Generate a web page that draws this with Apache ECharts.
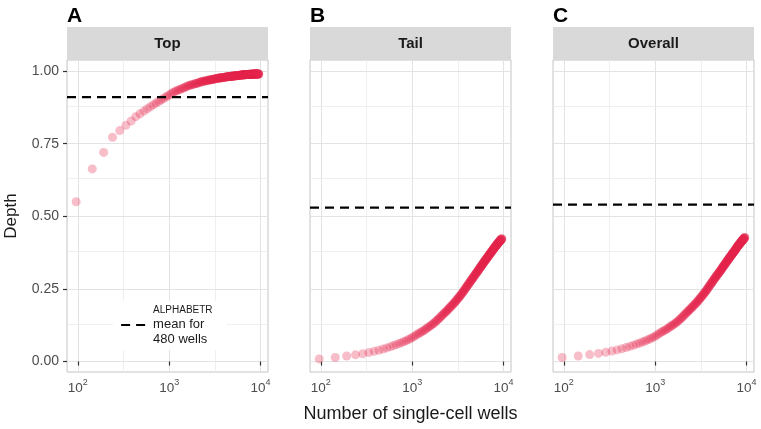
<!DOCTYPE html>
<html><head><meta charset="utf-8">
<script src="https://cdn.jsdelivr.net/npm/echarts@6/dist/echarts.min.js"></script>
<style>html,body{margin:0;padding:0;background:#fff}#c{width:761px;height:429px}</style>
</head><body><div id="c"></div>
<script>
// ---------- data ----------
const wells = [
  96,144,192,240,288,336,384,432,480,528,
  576,624,672,720,768,816,864,912,960,1008,
  1056,1104,1152,1200,1248,1296,1344,1392,1440,1488,
  1536,1584,1632,1680,1728,1776,1824,1872,1920,1968,
  2016,2064,2112,2160,2208,2256,2304,2352,2400,2448,
  2496,2544,2592,2640,2688,2736,2784,2832,2880,2928,
  2976,3024,3072,3120,3168,3216,3264,3312,3360,3408,
  3456,3504,3552,3600,3648,3696,3744,3792,3840,3888,
  3936,3984,4032,4080,4128,4176,4224,4272,4320,4368,
  4416,4464,4512,4560,4608,4656,4704,4752,4800,4848,
  4896,4944,4992,5040,5088,5136,5184,5232,5280,5328,
  5376,5424,5472,5520,5568,5616,5664,5712,5760,5808,
  5856,5904,5952,6000,6048,6096,6144,6192,6240,6288,
  6336,6384,6432,6480,6528,6576,6624,6672,6720,6768,
  6816,6864,6912,6960,7008,7056,7104,7152,7200,7248,
  7296,7344,7392,7440,7488,7536,7584,7632,7680,7728,
  7776,7824,7872,7920,7968,8016,8064,8112,8160,8208,
  8256,8304,8352,8400,8448,8496,8544,8592,8640,8688,
  8736,8784,8832,8880,8928,8976,9024,9072,9120,9168,
  9216,9264,9312,9360,9408,9456,9504,9552,9600
];
const depthTop = [
  .550,.663,.720,.772,.795,.813,.828,.843,.853,.862,
  .870,.877,.884,.890,.895,.900,.905,.910,.914,.918,
  .922,.926,.929,.932,.934,.936,.938,.940,.942,.944,
  .946,.948,.950,.951,.952,.953,.954,.955,.956,.957,
  .958,.959,.960,.961,.962,.963,.964,.965,.965,.966,
  .966,.967,.967,.968,.968,.969,.969,.970,.970,.971,
  .971,.972,.972,.973,.973,.973,.974,.974,.975,.975,
  .975,.976,.976,.976,.977,.977,.977,.977,.978,.978,
  .978,.978,.979,.979,.979,.979,.980,.980,.980,.980,
  .980,.981,.981,.981,.981,.981,.982,.982,.982,.982,
  .982,.982,.983,.983,.983,.983,.983,.983,.984,.984,
  .984,.984,.984,.984,.984,.985,.985,.985,.985,.985,
  .985,.985,.985,.986,.986,.986,.986,.986,.986,.986,
  .986,.986,.987,.987,.987,.987,.987,.987,.987,.987,
  .987,.987,.988,.988,.988,.988,.988,.988,.988,.988,
  .988,.988,.988,.988,.988,.989,.989,.989,.989,.989,
  .989,.989,.989,.989,.989,.989,.989,.989,.989,.989,
  .989,.990,.990,.990,.990,.990,.990,.990,.990,.990,
  .990,.990,.990,.990,.990,.990,.990,.990,.990,.990,
  .990,.990,.990,.990,.990,.990,.990,.990,.990
];
const depthTail = [
  .009,.014,.019,.023,.027,.031,.035,.039,.043,.047,
  .051,.055,.058,.062,.065,.069,.072,.076,.079,.083,
  .087,.091,.095,.098,.101,.104,.107,.110,.114,.117,
  .120,.123,.126,.129,.132,.135,.139,.142,.145,.148,
  .151,.155,.158,.161,.164,.167,.170,.172,.175,.178,
  .181,.183,.186,.189,.191,.194,.196,.199,.201,.204,
  .207,.209,.212,.214,.217,.219,.222,.224,.227,.229,
  .232,.234,.237,.239,.242,.244,.247,.249,.252,.254,
  .257,.259,.261,.264,.266,.268,.270,.272,.275,.277,
  .279,.281,.284,.285,.287,.289,.291,.293,.295,.297,
  .299,.301,.303,.305,.306,.308,.310,.312,.313,.315,
  .317,.319,.321,.323,.324,.326,.327,.329,.330,.332,
  .334,.335,.337,.339,.340,.342,.343,.345,.346,.348,
  .349,.350,.352,.353,.355,.356,.357,.359,.360,.361,
  .363,.364,.365,.367,.368,.369,.370,.372,.373,.374,
  .375,.377,.378,.379,.380,.381,.383,.384,.385,.386,
  .387,.388,.390,.391,.392,.393,.394,.395,.396,.397,
  .398,.399,.400,.401,.402,.403,.404,.405,.406,.407,
  .408,.409,.410,.411,.412,.413,.413,.414,.415,.416,
  .417,.418,.418,.419,.420,.421,.422,.422,.423
];
const depthOverall = [
  .014,.019,.024,.028,.032,.036,.040,.044,.048,.052,
  .056,.060,.063,.067,.070,.074,.077,.081,.084,.088,
  .092,.096,.100,.103,.106,.109,.112,.115,.119,.122,
  .124,.127,.130,.133,.136,.139,.143,.146,.149,.152,
  .155,.159,.162,.165,.168,.171,.174,.176,.179,.182,
  .185,.187,.190,.193,.195,.198,.200,.203,.205,.208,
  .211,.213,.216,.218,.221,.223,.226,.228,.231,.233,
  .236,.238,.241,.243,.246,.248,.251,.253,.256,.258,
  .261,.263,.265,.268,.270,.272,.274,.276,.279,.281,
  .283,.285,.288,.289,.291,.293,.295,.297,.299,.301,
  .302,.304,.306,.308,.309,.311,.313,.315,.316,.318,
  .320,.322,.324,.326,.327,.329,.330,.332,.333,.335,
  .337,.338,.340,.342,.343,.345,.346,.348,.349,.351,
  .352,.353,.355,.356,.358,.359,.360,.362,.363,.364,
  .366,.367,.368,.370,.371,.372,.373,.375,.376,.377,
  .378,.380,.381,.382,.383,.384,.386,.387,.388,.389,
  .391,.392,.394,.395,.396,.397,.398,.399,.400,.401,
  .402,.403,.404,.405,.406,.407,.408,.409,.410,.411,
  .412,.413,.414,.415,.416,.417,.417,.418,.419,.420,
  .421,.422,.422,.423,.424,.425,.426,.426,.427
];
const panelNames = ['Top', 'Tail', 'Overall'];
const panelLetters = ['A', 'B', 'C'];
const panelDepths = [depthTop, depthTail, depthOverall];
const alphabetrMean = [0.910, 0.530, 0.540];
const xMajor = [100, 1000, 10000];
const xMinor = [316.23, 3162.3];
const yMajor = [0, 0.25, 0.5, 0.75, 1];
const yMinor = [0.125, 0.375, 0.625, 0.875];
const legendName = 'ALPHABETR mean for 480 wells';

// ---------- layout ----------
const X_MIN = 76.2, X_MAX = 12080, Y_MIN = -0.036, Y_MAX = 1.038;
const gridLefts = [67, 310, 553];
const GW = 201, GTOP = 60, GH = 312;
const FONT = "'Liberation Sans', Arial, sans-serif";
const NARROW = "'Liberation Sans Narrow', 'Liberation Sans', Arial, sans-serif";

const chart = echarts.init(document.getElementById('c'), null, {renderer: 'canvas'});

const grids = [], xAxes = [], yAxes = [], series = [], graphics = [];
const majorStyle = {color: '#E3E3E3', width: 1, type: 'solid'};
const minorStyle = {color: '#EBEBEB', width: 0.8, type: 'solid'};

panelNames.forEach((name, i) => {
  grids.push({left: gridLefts[i], top: GTOP, width: GW, height: GH,
    show: true, borderColor: '#C4C4C4', borderWidth: 1, backgroundColor: '#fff'});
  xAxes.push({
    type: 'log', logBase: 10, gridIndex: i, min: X_MIN, max: X_MAX,
    axisLine: {show: false},
    splitLine: {show: false}, minorSplitLine: {show: false},
    axisTick: {show: true, length: 4, lineStyle: {color: '#333', width: 1.2}, customValues: xMajor},
    axisLabel: {
      customValues: xMajor, margin: 6,
      formatter: v => '{b|10}{s|' + Math.round(Math.log10(v)) + '}',
      rich: {
        b: {fontSize: 13.5, color: '#4D4D4D', fontFamily: FONT, lineHeight: 17, verticalAlign: 'bottom'},
        s: {fontSize: 9, color: '#4D4D4D', fontFamily: FONT, lineHeight: 10, verticalAlign: 'top'}
      }
    },
    name: i === 1 ? 'Number of single-cell wells' : '',
    nameLocation: 'middle', nameGap: 33,
    nameTextStyle: {fontSize: 18, color: '#1A1A1A', fontFamily: FONT}
  });
  yAxes.push({
    type: 'value', gridIndex: i, min: Y_MIN, max: Y_MAX,
    axisLine: {show: false},
    splitLine: {show: false},
    axisTick: {show: i === 0, length: 4, lineStyle: {color: '#333', width: 1.2}, customValues: yMajor},
    axisLabel: {show: i === 0, customValues: yMajor, margin: 8, fontSize: 14, color: '#4D4D4D',
      fontFamily: FONT, formatter: v => v.toFixed(2)},
    name: i === 0 ? 'Depth' : '', nameLocation: 'middle', nameGap: 47,
    nameTextStyle: {fontSize: 17, color: '#1A1A1A', fontFamily: FONT}
  });
  const gl = [];
  xMajor.forEach(v => gl.push({xAxis: v, lineStyle: majorStyle}));
  xMinor.forEach(v => gl.push({xAxis: v, lineStyle: minorStyle}));
  yMajor.forEach(v => gl.push({yAxis: v, lineStyle: majorStyle}));
  yMinor.forEach(v => gl.push({yAxis: v, lineStyle: minorStyle}));
  series.push({
    type: 'scatter', xAxisIndex: i, yAxisIndex: i, data: [], silent: true, z: 0,
    markLine: {silent: true, symbol: ['none', 'none'], z: 0, animation: false,
      label: {show: false}, emphasis: {disabled: true}, data: gl}
  });
  series.push({
    type: 'scatter', name: name, xAxisIndex: i, yAxisIndex: i, z: 3,
    symbolSize: 9,
    itemStyle: {color: '#E3264C', opacity: 0.3, borderWidth: 0},
    emphasis: {disabled: true},
    data: wells.map((w, j) => [w, panelDepths[i][j]])
  });
  series.push({
    type: 'line', name: i === 0 ? legendName : 'mean ' + name, xAxisIndex: i, yAxisIndex: i, z: 4,
    symbol: 'none', silent: true,
    itemStyle: {color: '#000'},
    lineStyle: {color: '#000', width: 2.2, type: [9, 6]},
    data: [[X_MIN, alphabetrMean[i]], [X_MAX, alphabetrMean[i]]]
  });
  graphics.push({type: 'rect', left: gridLefts[i], top: 27, z: 1,
    shape: {width: GW, height: 33}, style: {fill: '#D9D9D9'}});
  graphics.push({type: 'text', x: gridLefts[i] + GW / 2, y: 44, z: 2,
    style: {text: name, fill: '#1A1A1A', font: 'bold 15px ' + NARROW, align: 'center', verticalAlign: 'middle'}});
  graphics.push({type: 'text', x: gridLefts[i], y: 16, z: 2,
    style: {text: panelLetters[i], fill: '#000', font: '900 21px ' + FONT, align: 'left', verticalAlign: 'middle'}});
});

chart.setOption({
  animation: false,
  backgroundColor: '#fff',
  grid: grids, xAxis: xAxes, yAxis: yAxes, series: series,
  graphic: graphics,
  legend: {
    data: [legendName], left: 113, top: 301, orient: 'vertical',
    backgroundColor: '#fff', padding: [4, 14, 4, 7],
    itemWidth: 27, itemHeight: 14, selectedMode: false,
    itemStyle: {opacity: 0},
    lineStyle: {color: '#000', width: 2.2, type: [9, 6]},
    formatter: () => '{a|ALPHABETR}\n{b|mean for}\n{b|480 wells}',
    textStyle: {
      rich: {
        a: {fontSize: 10, color: '#1A1A1A', fontFamily: FONT, lineHeight: 14},
        b: {fontSize: 13, color: '#1A1A1A', fontFamily: FONT, lineHeight: 15}
      }
    }
  }
});
</script>
</body></html>
